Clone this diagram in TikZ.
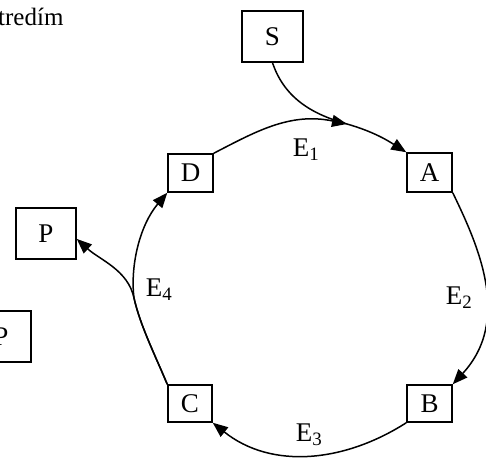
\documentclass[tikz,border=0pt]{standalone}
\usepackage{fontspec}
\setmainfont{Liberation Serif}
\usetikzlibrary{arrows.meta,positioning}
\tikzset{
  box/.style={
    shape = rectangle,
    draw,
    line width = 1.5pt,
    inner sep = 0pt,
    font = \fontsize{27}{31}\selectfont
  },
  edge/.style={
    line width = 1.5pt,
    -{Triangle[length=15pt,width=12pt]}
  },
  lbl/.style={
    inner sep = 0pt,
    font = \fontsize{27}{31}\selectfont
  }
}
\begin{document}
\begin{tikzpicture}[x=1pt,y=-1pt]
  \useasboundingbox (0,0) rectangle (486,457);
  \node[lbl,anchor=base west,font=\fontsize{25}{29}\selectfont] (title) at (-2,26) {tredím};
  \node[box,minimum width=61pt,minimum height=51pt] (S) at (272.5,36.5) {S};
  \node[box,minimum width=45pt,minimum height=39pt] (A) at (429.5,172.5) {A};
  \node[box,minimum width=45pt,minimum height=37pt] (B) at (429.5,403.5) {B};
  \node[box,minimum width=44pt,minimum height=37pt] (C) at (190,403.5) {C};
  \node[box,minimum width=45pt,minimum height=38pt] (D) at (190.5,173) {D};
  \node[box,minimum width=60pt,minimum height=51pt] (P) at (46,233.5) {P};
  \node[box,minimum width=60pt,minimum height=51pt] (Q) at (1,336.5) {P};
  \coordinate (m) at (347,124);
  \coordinate (j) at (134,298);
  % edges of the ring
  \draw[edge] (S.south) .. controls (285,100) and (315,115) .. (m)
                        .. controls (375,132) and (390,142) .. (A.north west);
  \draw[edge] (D.north east) .. controls (255,132) and (290,112) .. (m);
  \draw[edge] (A.south east) .. controls (478,245) and (512,320) .. (B.north east);
  \draw[edge] (B.south west) .. controls (345,462) and (272,470) .. (C.south east);
  \draw[edge] (C.north west) .. controls (155,355) and (140,325) .. (j)
                             .. controls (130,265) and (140,225) .. (D.south west);
  \draw[edge] (C.north west) .. controls (155,355) and (140,325) .. (j)
                             .. controls (128,270) and (100,260) .. (P.-10);
  \node[lbl] (e1) at (306,150) {E\textsubscript{1}};
  \node[lbl] (e2) at (459,298) {E\textsubscript{2}};
  \node[lbl] (e3) at (309,435) {E\textsubscript{3}};
  \node[lbl] (e4) at (159,290) {E\textsubscript{4}};
\end{tikzpicture}
\end{document}
